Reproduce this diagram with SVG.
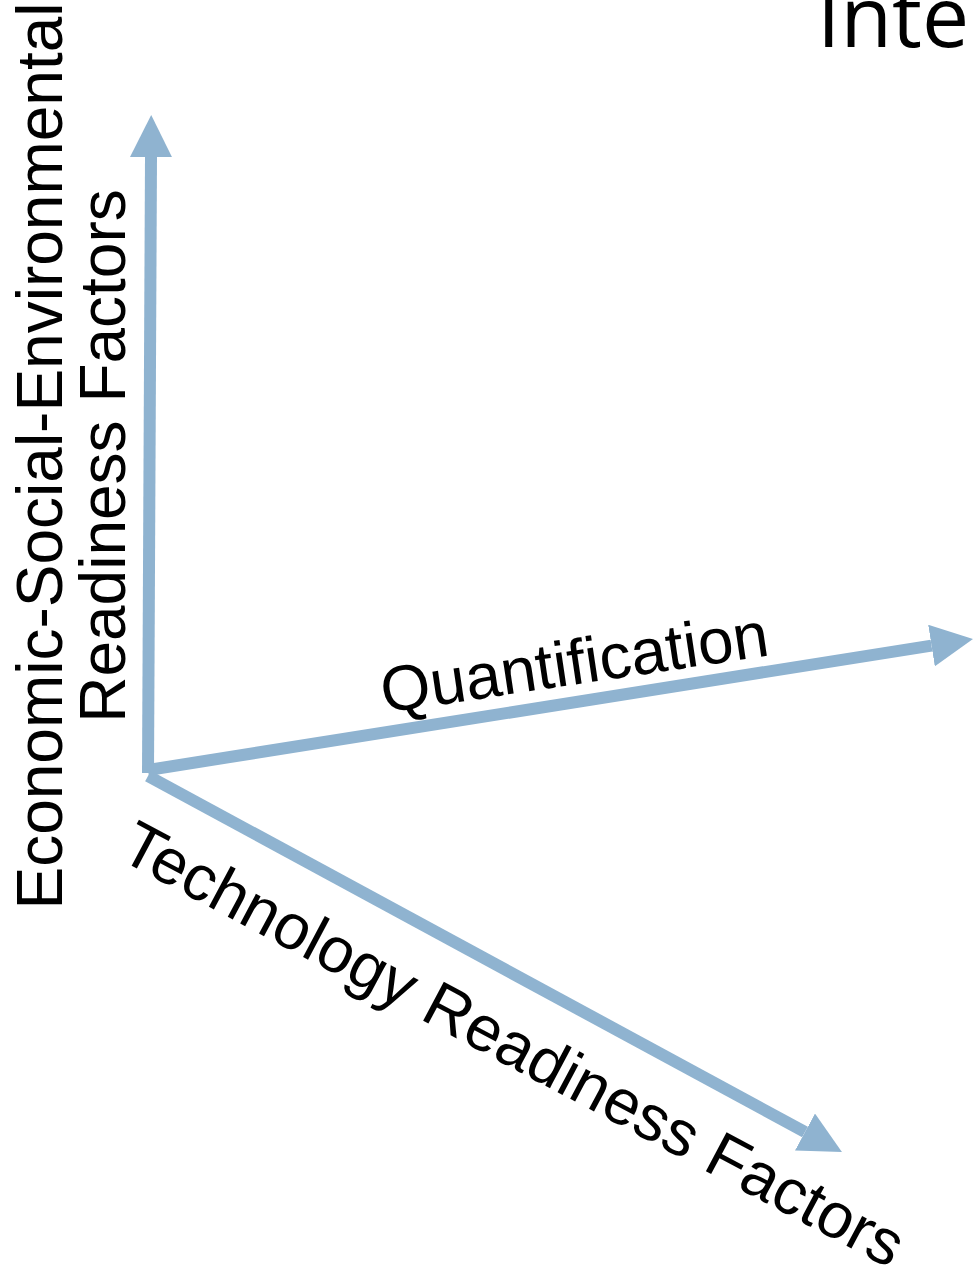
<svg xmlns="http://www.w3.org/2000/svg" width="973" height="1271" viewBox="0 0 973 1271">
  <style>
    .axis { stroke: #8fb3d0; stroke-width: 12; fill: none; stroke-linecap: butt; marker-end: url(#head); }
    .label { font-family: "Liberation Sans", Arial, sans-serif; font-size: 64px; fill: #000; }
    .title { font-family: "Open Sans", "Noto Sans", sans-serif; font-size: 84px; fill: #000; }
  </style>
  <defs>
    <marker id="head" markerUnits="userSpaceOnUse" markerWidth="42" markerHeight="42" viewBox="0 0 42 42" refX="0" refY="21" orient="auto">
      <path d="M0,0 L42,21 L0,42 Z" fill="#8fb3d0"/>
    </marker>
  </defs>
  <rect width="973" height="1271" fill="#ffffff"/>

  <!-- heading, runs off the top and right edges -->
  <g id="title">
    <text class="title" x="817" y="47">Inte</text>
  </g>

  <!-- three axes from a shared origin -->
  <g id="connectors">
    <line class="axis" x1="148" y1="773" x2="151" y2="157"/>
    <line class="axis" x1="148" y1="770" x2="931.5" y2="645.6"/>
    <line class="axis" x1="148" y1="776" x2="805" y2="1132"/>
  </g>

  <g id="axis-vertical-label">
    <text class="label" text-anchor="middle" transform="translate(62,456) rotate(-90)">Economic-Social-Environmental</text>
    <text class="label" text-anchor="middle" transform="translate(125,456) rotate(-90)">Readiness Factors</text>
  </g>

  <g id="axis-quantification-label">
    <text class="label" transform="translate(384,713) rotate(-8.5)">Quantification</text>
  </g>

  <g id="axis-technology-label">
    <text class="label" transform="translate(117,858) rotate(28)">Technology Readiness Factors</text>
  </g>
</svg>
